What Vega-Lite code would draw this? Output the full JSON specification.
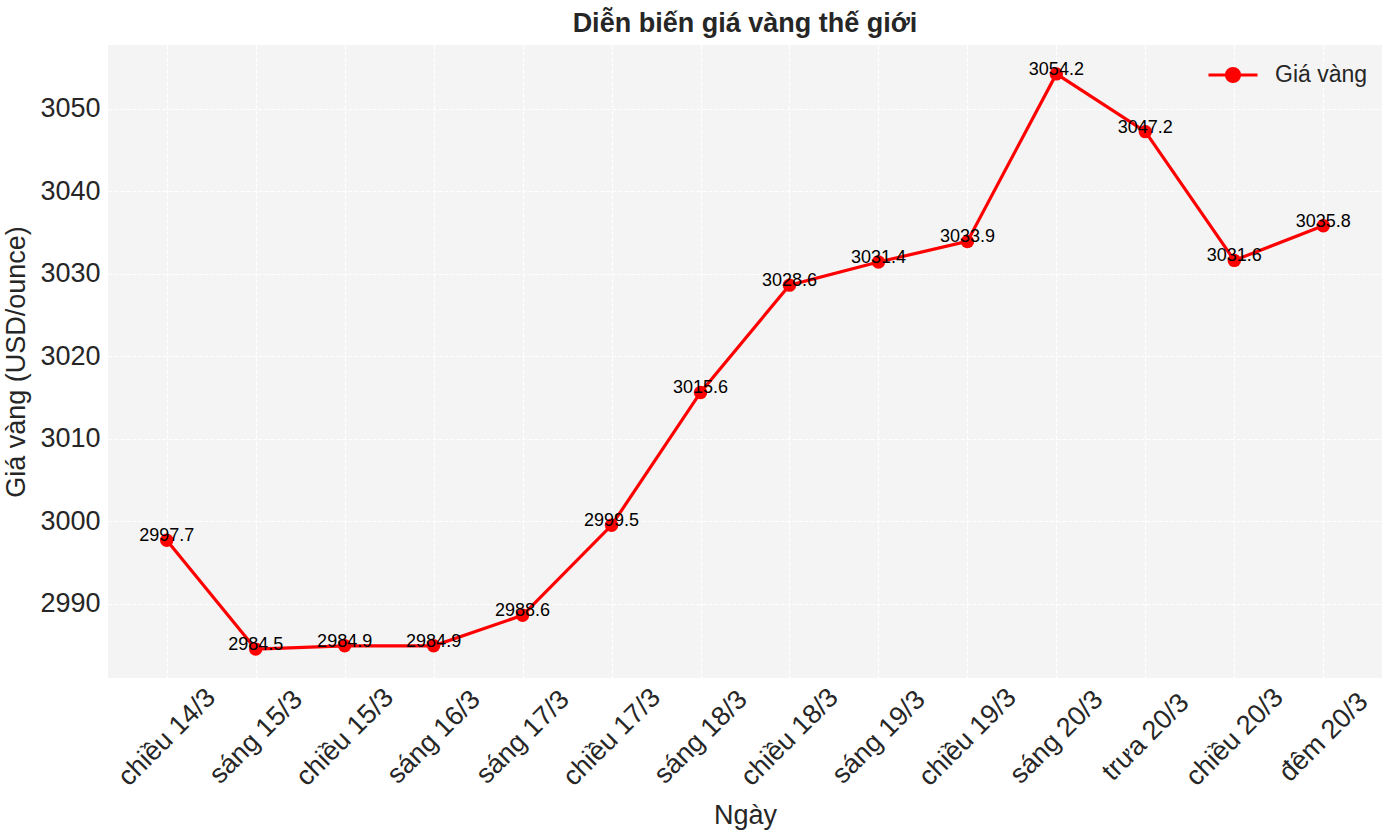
{
  "$schema": "https://vega.github.io/schema/vega-lite/v6.json",
  "autosize": {"type": "none"},
  "width": 1274,
  "height": 633,
  "padding": {"left": 108, "top": 45, "right": 0, "bottom": 159},
  "background": "#ffffff",
  "title": {
    "text": "Diễn biến giá vàng thế giới",
    "font": "Liberation Sans",
    "fontSize": 27,
    "fontWeight": "bold",
    "color": "#262626",
    "anchor": "middle",
    "frame": "group",
    "baseline": "alphabetic",
    "offset": 13,
    "dy": 27
  },
  "config": {
    "view": {"fill": "#f4f4f4", "stroke": null},
    "font": "Liberation Sans",
    "axis": {
      "domain": false,
      "ticks": false,
      "grid": true,
      "gridColor": "#ffffff",
      "gridWidth": 1.2,
      "gridDash": [4, 2],
      "labelFont": "Liberation Sans",
      "labelFontSize": 27,
      "labelColor": "#262626",
      "titleFont": "Liberation Sans",
      "titleFontSize": 27,
      "titleFontWeight": "normal",
      "titleColor": "#262626"
    }
  },
  "data": {
    "values": [
      {"ngay": "chiều 14/3", "gia": 2997.7},
      {"ngay": "sáng 15/3", "gia": 2984.5},
      {"ngay": "chiều 15/3", "gia": 2984.9},
      {"ngay": "sáng 16/3", "gia": 2984.9},
      {"ngay": "sáng 17/3", "gia": 2988.6},
      {"ngay": "chiều 17/3", "gia": 2999.5},
      {"ngay": "sáng 18/3", "gia": 3015.6},
      {"ngay": "chiều 18/3", "gia": 3028.6},
      {"ngay": "sáng 19/3", "gia": 3031.4},
      {"ngay": "chiều 19/3", "gia": 3033.9},
      {"ngay": "sáng 20/3", "gia": 3054.2},
      {"ngay": "trưa 20/3", "gia": 3047.2},
      {"ngay": "chiều 20/3", "gia": 3031.6},
      {"ngay": "đêm 20/3", "gia": 3035.8}
    ]
  },
  "encoding": {
    "x": {
      "field": "ngay",
      "type": "ordinal",
      "sort": null,
      "scale": {"type": "point", "padding": 0.66},
      "axis": {
        "title": "Ngày",
        "labelAngle": -45,
        "labelAlign": "center",
        "labelBaseline": "middle",
        "labelPadding": 59,
        "titleY": 137,
        "titleBaseline": "middle"
      }
    },
    "y": {
      "field": "gia",
      "type": "quantitative",
      "scale": {"domain": [2981.0, 3057.7], "nice": false, "zero": false},
      "axis": {
        "title": "Giá vàng (USD/ounce)",
        "format": "d",
        "values": [2990, 3000, 3010, 3020, 3030, 3040, 3050],
        "labelPadding": 8,
        "titlePadding": 9
      }
    }
  },
  "layer": [
    {
      "mark": {"type": "line", "strokeWidth": 3.2},
      "encoding": {
        "color": {
          "datum": "Giá vàng",
          "type": "nominal",
          "scale": {"range": ["#ff0000"]},
          "legend": {
            "title": null,
            "orient": "none",
            "legendX": 1099,
            "legendY": 4,
            "symbolType": "M-1,0H1M0.27,0A0.27,0.27,0,1,1,-0.27,0A0.27,0.27,0,1,1,0.27,0Z",
            "symbolSize": 2400,
            "symbolStrokeWidth": 3,
            "symbolFillColor": "#ff0000",
            "symbolStrokeColor": "#ff0000",
            "labelFont": "Liberation Sans",
            "labelFontSize": 23,
            "labelColor": "#262626",
            "labelOffset": 16,
            "encode": {
              "symbols": {"update": {"fill": {"value": "#ff0000"}, "stroke": {"value": "#ff0000"}, "strokeWidth": {"value": 3}}}
            }
          }
        }
      }
    },
    {
      "mark": {"type": "point", "filled": true, "size": 180, "opacity": 1},
      "encoding": {
        "color": {"datum": "Giá vàng", "type": "nominal"}
      }
    },
    {
      "mark": {
        "type": "text",
        "font": "Liberation Sans",
        "fontSize": 18,
        "color": "#000000",
        "align": "center",
        "baseline": "alphabetic",
        "dy": 1
      },
      "encoding": {
        "text": {"field": "gia", "type": "quantitative", "format": ".1f"}
      }
    }
  ]
}
